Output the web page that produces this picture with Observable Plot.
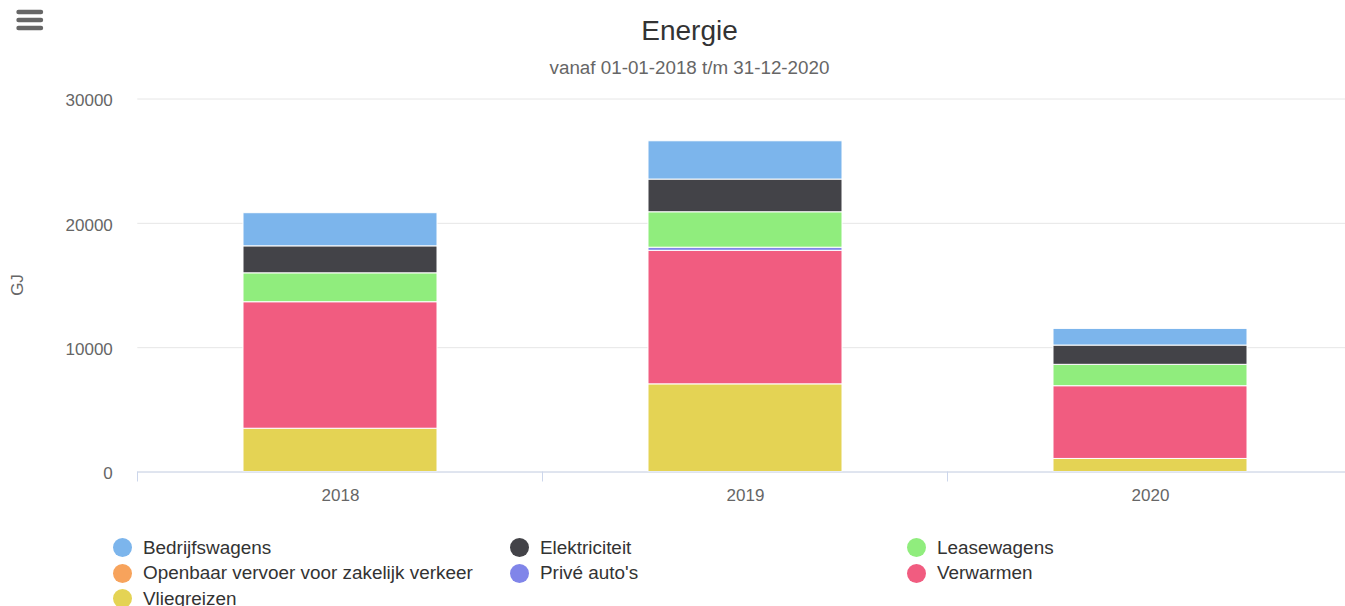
<!DOCTYPE html>
<html>
<head>
<meta charset="utf-8">
<script src="https://cdn.jsdelivr.net/npm/d3@7"></script>
<script src="https://cdn.jsdelivr.net/npm/@observablehq/plot@0.6"></script>
<style>
html, body { margin: 0; padding: 0; background: #fff; overflow: hidden; }
body { font-family: "Liberation Sans", Arial, Helvetica, sans-serif; width: 1345px; height: 606px; position: relative; }
#menu { position: absolute; left: 14px; top: 7px; }
#title { position: absolute; left: 0; width: 1379px; top: 14px; line-height: 34px; text-align: center; font-size: 28px; color: #333333; }
#subtitle { position: absolute; left: 0; width: 1379px; top: 56px; line-height: 24px; text-align: center; font-size: 18.8px; color: #666666; }
#chart { position: absolute; left: 0; top: 80px; width: 1354px; }
#chart svg { max-width: none !important; }
#ytitle { position: absolute; left: 18px; top: 285px; font-size: 17px; color: #666666; transform: translate(-50%, -50%) rotate(-90deg); white-space: nowrap; }
#legend { position: absolute; left: 113px; top: 535px; display: grid; grid-template-columns: 397px 397px 397px; grid-auto-rows: 25.5px; }
.item { display: flex; align-items: center; font-size: 18.9px; color: #333333; white-space: nowrap; }
.dot { width: 19px; height: 19px; border-radius: 50%; margin-right: 11px; flex: none; }
</style>
</head>
<body>
<svg id="menu" width="32" height="28"><g stroke="#666666" stroke-width="4.4" stroke-linecap="round"><line x1="4.5" x2="27" y1="5" y2="5"/><line x1="4.5" x2="27" y1="13" y2="13"/><line x1="4.5" x2="27" y1="21" y2="21"/></g></svg>
<div id="title">Energie</div>
<div id="subtitle">vanaf 01-01-2018 t/m 31-12-2020</div>
<div id="chart"></div>
<div id="ytitle">GJ</div>
<div id="legend"></div>
<script>
// ---- data ----
const years = ["2018", "2019", "2020"];
const seriesNames = ["Bedrijfswagens", "Elektriciteit", "Leasewagens", "Openbaar vervoer voor zakelijk verkeer", "Privé auto's", "Verwarmen", "Vliegreizen"];
const seriesColors = ["#7cb5ec", "#434348", "#90ed7d", "#f7a35c", "#8085e9", "#f15c80", "#e4d354"];
const bedrijfswagens = [2665, 3080, 1340];
const elektriciteit = [2170, 2630, 1550];
const leasewagens = [2325, 2850, 1720];
const openbaarVervoer = [0, 0, 0];
const priveAutos = [0, 250, 0];
const verwarmen = [10175, 10740, 5850];
const vliegreizen = [3480, 7050, 1050];
const yTicks = [0, 10000, 20000, 30000];

const seriesValues = [bedrijfswagens, elektriciteit, leasewagens, openbaarVervoer, priveAutos, verwarmen, vliegreizen];
// stack bottom-up: last series at the bottom (Highcharts order)
const stackOrder = seriesNames.slice().reverse();
const rows = [];
stackOrder.forEach(name => {
  const vals = seriesValues[seriesNames.indexOf(name)];
  years.forEach((y, i) => { if (vals[i] > 0) rows.push({year: y, series: name, value: vals[i]}); });
});

const chart = Plot.plot({
  width: 1354,
  height: 440,
  marginLeft: 137.3,
  marginRight: 0,
  marginTop: 18.5,
  marginBottom: 48.5,
  style: {fontFamily: '"Liberation Sans", Arial, Helvetica, sans-serif', fontSize: "17px", color: "#666666", background: "white", overflow: "visible", maxWidth: "none"},
  x: {domain: years, paddingInner: 0.52, paddingOuter: 0.26, label: null},
  y: {domain: [0, 30000], label: null},
  color: {domain: seriesNames, range: seriesColors},
  marks: [
    Plot.gridY(yTicks, {stroke: "#e6e6e6", strokeOpacity: 1}),
    Plot.axisY(yTicks, {tickSize: 0, tickPadding: 25, tickFormat: d3.format("d"), dy: 2, label: null}),
    Plot.barY(rows, {x: "year", y: "value", fill: "series", order: stackOrder, stroke: "white", strokeWidth: 1}),
    Plot.ruleY([0], {stroke: "#ccd6eb", strokeWidth: 1}),
    Plot.axisX({tickSize: 0, tickPadding: 17, label: null})
  ]
});

// category boundary ticks on the x axis (from the band scale)
const xs = chart.scale("x"), ys = chart.scale("y");
const gap = (xs.step - xs.bandwidth) / 2;
const y0 = ys.apply(0);
const edges = years.map(d => xs.apply(d) - gap);
edges.push(xs.apply(years[years.length - 1]) + xs.bandwidth + gap);
d3.select(chart).append("g").selectAll("line").data(edges).join("line")
  .attr("x1", d => d).attr("x2", d => d)
  .attr("y1", y0).attr("y2", y0 + 10)
  .attr("stroke", "#ccd6eb").attr("stroke-width", 1);

document.getElementById("chart").appendChild(chart);

// legend
const legend = d3.select("#legend");
seriesNames.forEach((name, i) => {
  const it = legend.append("div").attr("class", "item");
  it.append("span").attr("class", "dot").style("background", seriesColors[i]);
  it.append("span").text(name);
});
</script>
</body>
</html>
